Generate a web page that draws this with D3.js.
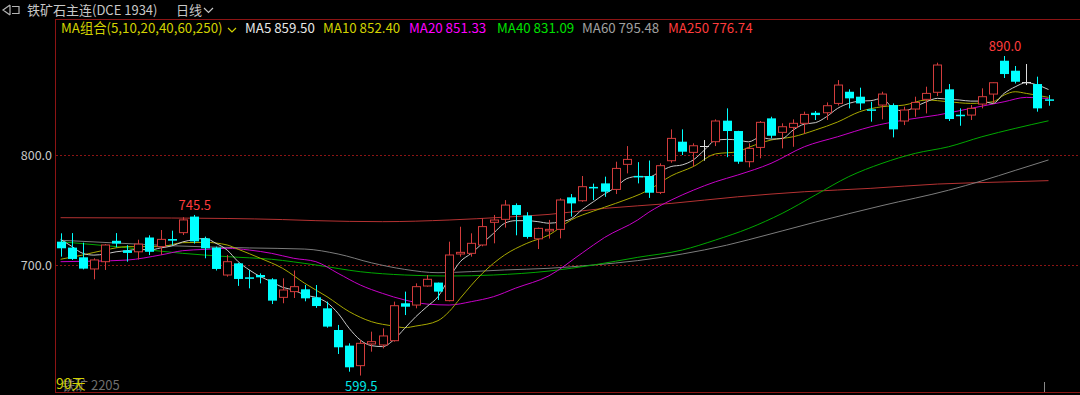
<!DOCTYPE html>
<html><head><meta charset="utf-8">
<script src="https://cdn.jsdelivr.net/npm/d3@7"></script>
<style>html,body{margin:0;padding:0;background:#000;overflow:hidden}</style>
</head><body><svg id="c" width="1080" height="395"></svg>
<script>
// ---- data ----
const openP  = [721.2,715.8,707,696.4,703,722,713.3,712,725,716.7,723.6,729.4,744,724.2,715.8,690.9,701.5,688.8,690.9,687,670.6,675.8,677.9,670.6,660.6,640.9,626.7,608.5,628.2,627.3,631.2,665.2,663.6,680.9,684,667.6,710,710.6,718.2,738.8,741.5,754.5,745,723.8,731,732.4,761.5,758.4,771,774.2,768.7,791.5,781,780.9,766,794.8,812.1,802.4,808.1,812.1,831.2,821.8,793.9,806.9,833.3,820.6,825.1,828.8,838.4,838.4,846.9,857.5,853,841.5,845.4,845.4,830.9,841.8,850.6,857,859.7,836.6,836.3,846.3,855.4,885.7,876.6,866.6,864.5,850.6];
const highP  = [728.8,729,720.3,706.1,719,729,718,723,727,731.8,731.2,743.5,745.5,725.8,716.7,709.1,702,695.5,692.4,688,687.9,695,681.8,681.8,666.7,645.5,628.8,631.8,639.4,642.4,666.7,675.8,683.3,690.9,684,721.2,734.8,728.8,742.4,745.5,759,756,748,734,741,760.6,764.5,780.9,774,780.3,793.9,808.1,793.5,795,792.4,823.3,823.3,810.6,813.6,832.4,842.4,822,810.6,830.9,834.8,828.8,832.4,839.4,840,847.8,868.1,859.7,861.2,848.4,857.5,846.9,843.9,853,862.1,883.9,864.5,842.4,845.4,860.6,866,890,880.9,882.7,871.2,854.5];
const lowP   = [707.6,704.6,696,687,695.5,716,703,705,709,709.1,718.2,727.3,719.5,706.1,695,689.4,681,678.8,683.3,664.5,665.2,670,667,661,643,619.1,603,599.5,621.2,624.2,630.3,654.5,660.6,680.3,668.2,667,707.6,707.6,717,719.7,734,727,724,714.5,724,724.2,744,757.5,759,762,764.5,783.3,774.2,761,764.5,793,800,789.4,794.8,808.1,798,792,788.8,797,815.1,806,807.5,819.1,831.8,831.8,845,842.4,840.9,830.3,832.4,816,827.2,834.8,837.8,853.6,830.9,826.6,831.8,842.4,846.9,870,865,863.6,839.4,844.8];
const closeP = [715.2,705.5,696.7,704.6,718.2,719.5,711,719,712,723.3,722.1,741,721.5,715.2,696.4,703,687.3,687.6,688.8,667.6,677.3,680.3,669.7,662.7,644,625.2,607,628.8,630.3,635.5,663,662.1,680.3,687,675.8,709.1,711.5,719.7,734.9,740.9,754.5,745.5,725.5,733.3,732.4,759.1,756,771.2,769.7,766.6,787.8,796,780,765.7,790.3,815.1,803,808.4,808.1,830.9,821.8,793.9,806,829.7,817.5,825.7,828.8,836.9,836.3,844.8,863.6,851.5,846.9,840.3,855.4,823.3,840.9,847.8,856,881.8,832.7,835.4,842.4,853,865.7,873.6,866.6,866.6,842.4,849.7];

// moving-average lines as [day index, value]
const ma5 = [[0,723.3],[1,717],[2,710.6],[3,709],[4,710],[5,712],[6,713],[7,714.3],[8,713.6],[9,715.5],[10,717.3],[11,721],[12,723],[13,724.2],[14,719.7],[15,713.6],[16,703],[17,695.5],[18,689.4],[19,684.8],[20,679.7],[21,677.3],[22,672.7],[23,670.6],[24,665.8],[25,656],[26,642.4],[27,631.8],[28,626.7],[29,625.8],[30,631.8],[31,642.4],[32,653],[33,662.1],[34,671.2],[35,687.9],[36,703],[37,710.6],[38,719.7],[39,728.8],[40,737.9],[41,740.3],[42,740.3],[43,739.4],[44,738],[45,739.2],[46,742],[47,750.5],[48,757.5],[49,764.5],[50,770.5],[51,778.5],[52,780.5],[53,780],[54,785],[55,789.5],[56,791],[57,795.5],[58,804.5],[59,813.3],[60,814.2],[61,813.6],[62,812],[63,816],[64,814.5],[65,815],[66,822.7],[67,828.1],[68,829.4],[69,834.8],[70,842.4],[71,846.9],[72,849],[73,849.4],[74,851.5],[75,842.4],[76,840],[77,843.9],[78,848.4],[79,851.5],[80,850.6],[81,850],[82,849],[83,849],[84,846.9],[85,856],[86,862],[87,865.7],[88,863.6],[89,859.5]];
const ma10 = [[0,705.2],[2,709.1],[4,713.6],[6,716.7],[9,716.7],[11,720.3],[13,720.6],[15,718.2],[16,714.3],[18,706.1],[20,697],[22,683.3],[24,671.2],[26,657.6],[28,648.5],[30,644.5],[31,643],[32,644.5],[34,649.4],[35,657.6],[36,669.7],[38,692.4],[40,709.1],[42,719.7],[44,727.3],[46,741],[48,749],[50,756],[53,768.3],[55,781],[57,789.5],[59,801],[61,803],[62,807],[64,813.6],[66,816.6],[68,822.7],[70,830],[72,839.4],[74,843.9],[76,845.4],[78,850],[80,848.4],[82,846.9],[84,848.4],[85,854.5],[86,857.5],[87,856],[89,852.4]];
const ma20 = [[0,703],[3,703.5],[6,704.5],[9,709.1],[11,713],[13,714.2],[15,715.2],[17,713.6],[19,710.6],[21,706.1],[23,703],[25,692.4],[27,681.8],[29,674.2],[31,668.2],[33,664.5],[35,663.6],[37,666.7],[39,671.2],[41,679],[44,690.2],[47,711],[49,725],[52,741],[53,748],[55,759],[57,768],[59,775.7],[61,781.8],[64,792.4],[67,807.5],[70,816.6],[73,825.7],[76,831.8],[79,836.3],[82,842.4],[85,848.4],[87,852.4],[89,851.3]];
const ma40 = [[0,721.2],[5,716.7],[11,710.6],[15,707.6],[19,705.2],[23,700],[27,693.9],[31,690.9],[35,690],[39,690.9],[44,694.5],[48,700],[52,707],[56,713.6],[59,722.7],[62,733.3],[65,746.9],[68,763.6],[71,780.3],[74,792.4],[77,801.5],[80,807.5],[83,816.6],[86,824.2],[89,831.1]];
const ma60 = [[0,722.5],[5,720],[10,717.5],[17,715.5],[22,714.5],[25,710],[28,702],[31,696],[34,693],[37,694],[40,695.5],[44,697],[48,700],[52,704],[56,710],[60,718],[62,723],[68,739],[74,754],[80,768],[83,776.5],[86,786],[89,795.5]];
const ma250 = [[0,743],[10,742.7],[20,741.3],[23,740.3],[29,739.4],[35,740.9],[40,743.5],[44,746],[49,751.5],[55,756],[61,762],[67,766.6],[73,769.7],[79,773.6],[85,775.5],[89,776.7]];

const yTicks = [800, 700];
const legend = [
  {t:"MA5 859.50", c:"#e6e6e6"},
  {t:"MA10 852.40", c:"#d2d200"},
  {t:"MA20 851.33", c:"#ff00ff"},
  {t:"MA40 831.09", c:"#00e000"},
  {t:"MA60 795.48", c:"#a0a0a0"},
  {t:"MA250 776.74", c:"#ff3c3c"}
];
const marks = [{i:12, v:745.5, t:"745.5", pos:"above", c:"#ff3c3c"},{i:85, v:890.0, t:"890.0", pos:"above", c:"#ff3c3c"},{i:27, v:599.5, t:"599.5", pos:"below", c:"#00e6e6"}];

// ---- chart ----
const svg = d3.select("#c");
svg.append("rect").attr("width",1080).attr("height",395).attr("fill","#000");
const x = d3.scaleLinear().domain([0, 89]).range([60.6, 1048.5]);
const y = d3.scaleLinear().domain([700, 800]).range([265, 155]);
const FONT = "'Noto Sans CJK SC','Noto Sans',sans-serif";
const RED = "#d23c3c", CYAN = "#00ffff";

// frame
svg.append("line").attr("x1",55).attr("x2",1080).attr("y1",19.5).attr("y2",19.5).attr("stroke","#8c1414");
svg.append("line").attr("x1",55.5).attr("x2",55.5).attr("y1",19).attr("y2",392).attr("stroke","#8c1414");
svg.append("line").attr("x1",55).attr("x2",1080).attr("y1",392.5).attr("y2",392.5).attr("stroke","#8c1414");

// grid + y labels
yTicks.forEach(v=>{
  const yy = Math.round(y(v))+0.5;
  svg.append("line").attr("x1",56).attr("x2",1080).attr("y1",yy).attr("y2",yy)
    .attr("stroke","#8c1414").attr("stroke-dasharray","2,2");
  svg.append("text").attr("x",52).attr("y",yy+4.5).attr("text-anchor","end")
    .attr("fill","#c8c8c8").attr("font-family",FONT).attr("font-size",12.5).text(d3.format(".1f")(v));
});

// MA lines
const line = d3.line().x(d=>x(d[0])).y(d=>y(d[1])).curve(d3.curveMonotoneX);
[[ma250,"#b43232"],[ma60,"#7c7c7c"],[ma40,"#00a800"],[ma20,"#c800c8"],[ma10,"#a8a800"],[ma5,"#c8c8c8"]].forEach(([d,c])=>{
  svg.append("path").attr("d",line(d)).attr("fill","none").attr("stroke",c).attr("stroke-width",1);
});

// candles
const g = svg.append("g");
openP.forEach((o,i)=>{
  const h = highP[i], l = lowP[i], c = closeP[i];
  const cx = Math.round(x(i));
  const up = c > o, flat = c === o;
  const col = flat ? "#dcdcdc" : (up ? RED : CYAN);
  g.append("line").attr("x1",cx+0.5).attr("x2",cx+0.5).attr("y1",y(h)).attr("y2",y(l)).attr("stroke",col);
  const top = y(Math.max(o,c)), bot = y(Math.min(o,c));
  if (flat) {
    g.append("line").attr("x1",cx-4).attr("x2",cx+5).attr("y1",Math.round(top)+0.5).attr("y2",Math.round(top)+0.5).attr("stroke",col);
  } else if (up) {
    g.append("rect").attr("x",cx-3.5).attr("y",top).attr("width",8).attr("height",Math.max(1,bot-top))
      .attr("fill","#000").attr("stroke",col).attr("stroke-width",1);
  } else {
    g.append("rect").attr("x",cx-4).attr("y",top).attr("width",9).attr("height",Math.max(1.5,bot-top)).attr("fill",col);
  }
});

// high/low marks
marks.forEach(m=>{
  const yy = m.pos==="above" ? y(m.v)-5 : y(m.v)+15;
  svg.append("text").attr("x",x(m.i)+1).attr("y",yy).attr("text-anchor","middle")
    .attr("fill",m.c).attr("font-family",FONT).attr("font-size",13).text(m.t);
});

// header
svg.append("path").attr("d","M10,5 L3,10 L10,15 M10,5 V15 M12,6.5 H19 V13.5 H12")
  .attr("fill","none").attr("stroke","#b4b4b4").attr("stroke-width",1.2);
svg.append("text").attr("x",27).attr("y",15).attr("fill","#c8c8c8").attr("font-family",FONT).attr("font-size",13)
  .attr("xml:space","preserve").style("white-space","pre").text("铁矿石主连(DCE 1934)");
svg.append("text").attr("x",176).attr("y",15).attr("fill","#c8c8c8").attr("font-family",FONT).attr("font-size",13).text("日线");
svg.append("path").attr("d","M204,8 L208.5,12.5 L213,8").attr("fill","none").attr("stroke","#c8c8c8").attr("stroke-width",1.2);

// legend row
svg.append("text").attr("x",61).attr("y",33).attr("fill","#d2d200").attr("font-family",FONT).attr("font-size",13.3).text("MA组合(5,10,20,40,60,250)");
svg.append("path").attr("d","M228,28 L232,32 L236,28").attr("fill","none").attr("stroke","#d2d200").attr("stroke-width",1.2);
const legX = [245, 323, 409, 497, 582, 668];
legend.forEach((d,k)=>{
  svg.append("text").attr("x",legX[k]).attr("y",33).attr("fill",d.c).attr("font-family",FONT).attr("font-size",13.3).text(d.t);
});

// bottom-left labels (the reference draws the day count over the contract name)
svg.append("text").attr("x",62).attr("y",390).attr("fill","#6e6e6e").attr("font-family",FONT).attr("font-size",13).text("铁矿 2205");
svg.append("text").attr("x",56).attr("y",389).attr("fill","#d2d200").attr("font-family",FONT).attr("font-size",14).text("90天");
// cursor tick
svg.append("line").attr("x1",1044.5).attr("x2",1044.5).attr("y1",382).attr("y2",392).attr("stroke","#888");
</script></body></html>
